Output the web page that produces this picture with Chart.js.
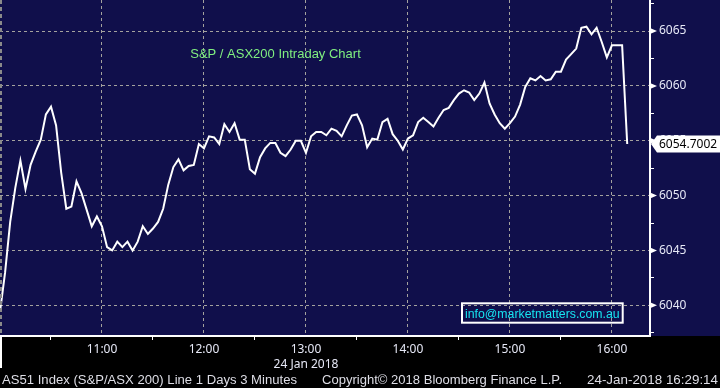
<!DOCTYPE html>
<html>
<head>
<meta charset="utf-8">
<script src="https://cdn.jsdelivr.net/npm/chart.js@4.4.1/dist/chart.umd.min.js"></script>
<style>
  html, body { margin: 0; padding: 0; background: #000; }
  #wrap { width: 720px; height: 388px; }
</style>
</head>
<body>
<div id="wrap"><canvas id="myChart" width="720" height="388"></canvas></div>
<script>
// AS51 Index, 3 minute bars from 10:00 on 24 Jan 2018
const barMinutes = 3;
const prices = [
  6039.4, 6043.0, 6047.6, 6050.7, 6053.2, 6050.6, 6052.8, 6054.0, 6055.1, 6057.4,
  6058.1, 6056.4, 6052.1, 6048.8, 6049.0, 6051.3, 6050.2, 6048.7, 6047.2, 6048.1,
  6047.2, 6045.3, 6045.0, 6045.8, 6045.3, 6045.8, 6045.0, 6045.8, 6047.2, 6046.5,
  6047.0, 6047.6, 6048.8, 6051.0, 6052.6, 6053.3, 6052.3, 6052.7, 6052.8, 6054.7,
  6054.3, 6055.4, 6055.3, 6054.7, 6056.5, 6055.8, 6056.6, 6055.1, 6055.1, 6052.4,
  6052.0, 6053.5, 6054.3, 6054.8, 6054.8, 6053.9, 6053.6, 6054.2, 6055.0, 6055.0,
  6053.9, 6055.4, 6055.8, 6055.8, 6055.5, 6056.1, 6055.9, 6055.4, 6056.4, 6057.3,
  6057.4, 6056.4, 6054.4, 6055.2, 6055.1, 6056.7, 6057.0, 6055.6, 6055.0, 6054.2,
  6055.2, 6055.5, 6056.7, 6057.1, 6056.7, 6056.3, 6057.1, 6057.8, 6058.0, 6058.7,
  6059.3, 6059.6, 6059.4, 6058.7, 6059.3, 6060.3, 6058.4, 6057.4, 6056.6, 6056.1,
  6056.6, 6057.2, 6058.3, 6059.9, 6060.7, 6060.5, 6060.9, 6060.5, 6060.6, 6061.3,
  6061.3, 6062.4, 6062.9, 6063.4, 6065.3, 6065.4, 6064.7, 6065.3, 6064.0, 6062.6,
  6063.7, 6063.7, 6063.7, 6054.7002
];
const hourTicks = [60, 120, 180, 240, 300, 360];
const hourLabels = ["11:00", "12:00", "13:00", "14:00", "15:00", "16:00"];
const dateLabel = "24 Jan 2018";
const chartTitle = "S&P / ASX200 Intraday Chart";
const infoText = "info@marketmatters.com.au";
const footer = [
  "AS51 Index (S&P/ASX 200) Line 1 Days 3 Minutes",
  "Copyright\u00a9 2018 Bloomberg Finance L.P.",
  "24-Jan-2018 16:29:14"
];

const navy = "#100f4b";
const gridGray = "#a4a29e";
const axisText = "#e6e8f6";
const lastPrice = prices[prices.length - 1];
const isMajor = (v) => Math.abs(v % 5) < 0.01;

function fitText(ctx, text, x, baseline, width) {
  const w = ctx.measureText(text).width;
  ctx.save();
  ctx.translate(x, baseline);
  ctx.scale(width / w, 1);
  ctx.fillText(text, 0, 0);
  ctx.restore();
}

const bloombergFrame = {
  id: "bloombergFrame",
  beforeDraw(chart) {
    const { ctx, chartArea } = chart;
    ctx.save();
    ctx.fillStyle = "#000";
    ctx.fillRect(0, 0, chart.width, chart.height);
    ctx.fillStyle = navy;
    ctx.fillRect(0, 0, chart.width, chartArea.bottom);
    ctx.restore();
  },
  afterDraw(chart) {
    const { ctx, chartArea } = chart;
    const yScale = chart.scales.y;
    const right = chartArea.right;
    ctx.save();

    // session start line on the left edge
    ctx.strokeStyle = "#8a8a8a";
    ctx.lineWidth = 2;
    ctx.setLineDash([4, 3]);
    ctx.beginPath();
    ctx.moveTo(1, chartArea.top);
    ctx.lineTo(1, chartArea.bottom);
    ctx.stroke();
    ctx.setLineDash([]);
    ctx.strokeStyle = "#fff";
    ctx.beginPath();
    ctx.moveTo(1, chartArea.bottom);
    ctx.lineTo(1, chartArea.bottom + 32);
    ctx.stroke();

    // arrow heads on the major price ticks
    ctx.fillStyle = "#fff";
    yScale.ticks.forEach((t) => {
      if (!isMajor(t.value)) return;
      const py = yScale.getPixelForValue(t.value);
      ctx.beginPath();
      ctx.moveTo(right, py - 3);
      ctx.lineTo(right + 7, py);
      ctx.lineTo(right, py + 3);
      ctx.closePath();
      ctx.fill();
    });

    // last price flag
    const py = yScale.getPixelForValue(lastPrice);
    ctx.beginPath();
    ctx.moveTo(right + 1, py);
    ctx.lineTo(right + 7, py - 8.5);
    ctx.lineTo(chart.width, py - 8.5);
    ctx.lineTo(chart.width, py + 8.5);
    ctx.lineTo(right + 7, py + 8.5);
    ctx.closePath();
    ctx.fill();
    ctx.fillStyle = "#000";
    ctx.font = "12px 'Noto Sans'";
    ctx.textBaseline = "middle";
    ctx.textAlign = "left";
    ctx.fillText(lastPrice.toFixed(4), right + 9, py + 0.5);

    // title
    ctx.fillStyle = "#80f080";
    ctx.font = "13px 'Liberation Sans'";
    ctx.textAlign = "center";
    ctx.fillText(chartTitle, 275.5, 54);

    // info box
    ctx.strokeStyle = "#fff";
    ctx.lineWidth = 2;
    ctx.strokeRect(462, 303.3, 160.7, 19.4);
    ctx.fillStyle = "#16e4f0";
    ctx.font = "12.3px 'Liberation Sans'";
    ctx.textAlign = "left";
    ctx.textBaseline = "alphabetic";
    ctx.fillText(infoText, 465, 317.5);

    // footer
    ctx.fillStyle = "#dedee6";
    ctx.font = "12.5px 'Liberation Sans'";
    fitText(ctx, footer[0], 2, 384, 295);
    fitText(ctx, footer[1], 322, 384, 240);
    fitText(ctx, footer[2], 587, 384, 131);
    ctx.restore();
  }
};

const ctx = document.getElementById("myChart");

new Chart(ctx, {
  type: "line",
  data: {
    datasets: [
      {
        label: "AS51",
        data: prices.map((p, i) => ({ x: i * barMinutes, y: p })),
        borderColor: "#ffffff",
        borderWidth: 2,
        pointRadius: 0,
        tension: 0,
      },
    ],
  },
  options: {
    responsive: false,
    animation: false,
    layout: { padding: 0 },
    plugins: {
      legend: { display: false },
      tooltip: { enabled: false },
    },
    scales: {
      x: {
        type: "linear",
        min: 0,
        max: 382.4,
        border: { display: true, color: "#ffffff", width: 2, dash: [3, 3] },
        grid: {
          color: (c) => (c.tick && c.tick.value % 60 === 0 && c.tick.value > 0 ? gridGray : "transparent"),
          tickColor: (c) => (c.tick && c.tick.value % 60 === 30 ? "#ffffff" : "transparent"),
          tickLength: 4,
          lineWidth: 1,
        },
        ticks: {
          stepSize: 30,
          includeBounds: false,
          autoSkip: false,
          maxRotation: 0,
          padding: 2,
          color: axisText,
          font: { family: "Noto Sans", size: 12, lineHeight: 1.25 },
          callback: (v) => {
            const k = hourTicks.indexOf(v);
            if (k < 0) return "";
            return v === 180 ? [hourLabels[k], dateLabel] : hourLabels[k];
          },
        },
        afterFit: (s) => {
          s.height = 52;
          s.paddingLeft = 0;
          s.paddingRight = 0;
        },
      },
      y: {
        position: "right",
        min: 6037.2,
        max: 6067.83,
        border: { display: true, color: "#ffffff", width: 2, dash: [3, 3] },
        grid: {
          color: (c) => (c.tick && isMajor(c.tick.value) ? gridGray : "transparent"),
          tickColor: "#ffffff",
          tickLength: 4,
          lineWidth: 1,
        },
        ticks: {
          stepSize: 2.5,
          includeBounds: false,
          autoSkip: false,
          padding: 5,
          color: axisText,
          font: { family: "Noto Sans", size: 12 },
          callback: (v) => (isMajor(v) ? String(Math.round(v)) : ""),
        },
        afterFit: (s) => {
          s.width = 70;
          s.paddingTop = 0;
          s.paddingBottom = 0;
        },
      },
    },
  },
  plugins: [bloombergFrame],
});
</script>
</body>
</html>
